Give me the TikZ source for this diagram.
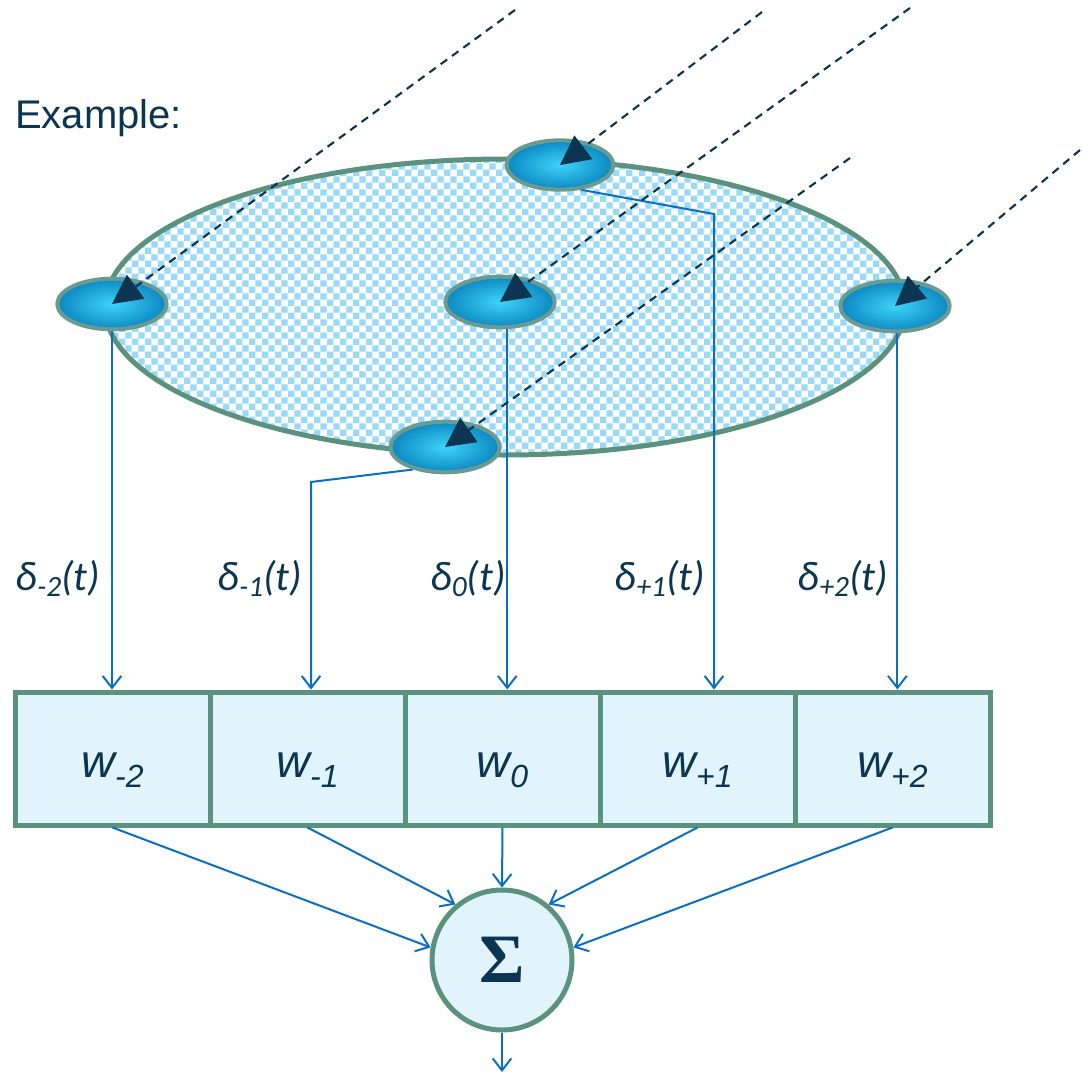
\documentclass[tikz,border=0pt]{standalone}
\usepackage[no-math]{fontspec}
\setmainfont{Liberation Sans}
\newfontfamily\carlito{Carlito}
\newfontfamily\lserif{Liberation Serif}
\usetikzlibrary{arrows.meta,shapes.geometric,patterns.meta,calc}
\definecolor{navy}{HTML}{0B3550}
\definecolor{ringgreen}{HTML}{5A927E}
\definecolor{boxfill}{HTML}{E1F3FB}
\definecolor{lineblue}{HTML}{0A6FC4}
\definecolor{patblue}{HTML}{98DAF8}
\definecolor{nodering}{HTML}{6A9B93}
\definecolor{nodein}{HTML}{3ED4F8}
\definecolor{nodeout}{HTML}{0B88C2}
\pgfdeclarelayer{back}
\pgfdeclarelayer{mid}
\pgfsetlayers{back,mid,main}
\tikzdeclarepattern{
  name=mycheck,
  type=uncolored,
  bottom left={(0pt,0pt)},
  top right={(10pt,10pt)},
  tile size={(10pt,10pt)},
  code={
    \fill (0pt,0pt) rectangle (5pt,5pt);
    \fill (5pt,5pt) rectangle (10pt,10pt);
  }
}
\newcommand{\wlab}[1]{\fontsize{35}{40}\selectfont\itshape w\raisebox{-8pt}{\fontsize{24}{24}\selectfont #1}}
\newcommand{\dlab}[1]{\carlito\fontsize{31}{36}\selectfont\itshape δ\raisebox{-5pt}{\fontsize{22}{22}\selectfont #1}(t)}
\begin{document}
\begin{tikzpicture}[x=0.75pt,y=-0.75pt,
  disc/.style={ellipse, draw=ringgreen, line width=3.75pt, minimum width=600pt, minimum height=222pt, inner sep=0pt,
    preaction={fill=white}, pattern=mycheck, pattern color=patblue},
  sensor/.style={ellipse, draw=nodering, line width=3pt, minimum width=82pt, minimum height=38pt, inner sep=0pt,
    inner color=nodein, outer color=nodeout},
  wbox/.style={rectangle, draw=ringgreen, fill=boxfill, line width=3.75pt, minimum width=146.25pt, minimum height=99.75pt,
    inner sep=0pt, text=navy, text height=28pt, text depth=0pt},
  sumc/.style={circle, draw=ringgreen, fill=boxfill, line width=3.75pt, minimum size=105pt, inner sep=0pt, text=navy},
  bl/.style={draw=lineblue, line width=1.5pt, -{Straight Barb[length=9pt,width=14pt]}},
  dasharrow/.style={draw=navy, line width=1.6pt, dash pattern=on 6pt off 4.5pt, -{Triangle[length=22pt,width=22pt]}},
  dl/.style={text=navy, anchor=base, inner sep=0pt}
]
\useasboundingbox (0,0) rectangle (1082,1075);
\begin{pgfonlayer}{back}
\node[disc] (disc) at (505,307) {};
\end{pgfonlayer}

% title
\node[text=navy, anchor=base west, inner sep=0pt] (ex) at (15,128) {\fontsize{30}{36}\selectfont Example:};

% sensors
\node[sensor, minimum width=80pt, minimum height=37pt] (nT) at (560,165) {};
\node[sensor] (nL) at (112,304) {};
\node[sensor] (nM) at (500,302) {};
\node[sensor] (nR) at (895,306) {};
\node[sensor] (nB) at (445,447) {};

% weight boxes
\node[wbox] (wm2) at (112.5,758.5) {\wlab{-2}};
\node[wbox] (wm1) at (307.5,758.5) {\wlab{-1}};
\node[wbox] (w0)  at (502.5,758.5) {\wlab{0}};
\node[wbox] (wp1) at (697.5,758.5) {\wlab{+1}};
\node[wbox] (wp2) at (892.5,758.5) {\wlab{+2}};

% summation
\node[sumc] (sig) at (502,960) {\lserif\bfseries\fontsize{52}{52}\selectfont Σ};

% delta labels
\node[dl] (d1) at (58,590) {\dlab{-2}};
\node[dl] (d2) at (260,590) {\dlab{-1}};
\node[dl] (d3) at (468,590) {\dlab{0}};
\node[dl] (d4) at (660,590) {\dlab{+1}};
\node[dl] (d5) at (843,590) {\dlab{+2}};

% blue connectors
\begin{pgfonlayer}{mid}
\draw[bl] (nL.south) -- (nL.south |- wm2.north);
\coordinate (kB) at (311,482);
\draw[bl] (nB.215) -- (kB) -- (kB |- wm1.north);
\draw[bl] (nM.-75) -- (nM.-75 |- w0.north);
\coordinate (kT) at (714,214);
\draw[bl] (nT.-50) -- (kT) -- (kT |- wp1.north);
\draw[bl] (nR.-85) -- (nR.-85 |- wp2.north);
\end{pgfonlayer}

\draw[bl] (wm2.south) -- (sig.170);
\draw[bl] (wm1.south) -- (sig.130);
\draw[bl] (w0.south) -- (sig.90);
\draw[bl] (wp1.south) -- (sig.50);
\draw[bl] (wp2.south) -- (sig.10);
\coordinate (out) at (502,1072);
\draw[bl] (sig.south) -- (out);

% incoming dashed rays
\coordinate (s1) at (515,10);
\coordinate (s2) at (762,12);
\coordinate (s3) at (910,8);
\coordinate (s4) at (850,158);
\coordinate (s5) at (1080,150);
\draw[dasharrow] (s1) -- (nL.center);
\draw[dasharrow] (s2) -- (nT.center);
\draw[dasharrow] (s3) -- (nM.center);
\draw[dasharrow] (s4) -- (nB.center);
\draw[dasharrow] (s5) -- (nR.center);
\end{tikzpicture}
\end{document}
